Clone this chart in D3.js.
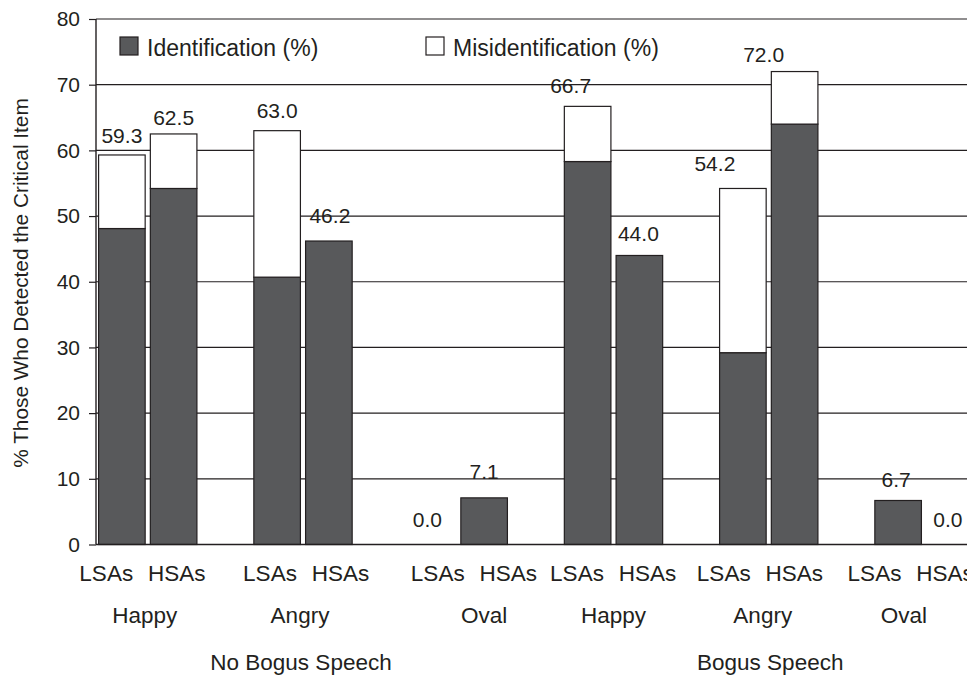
<!DOCTYPE html>
<html><head><meta charset="utf-8">
<script src="https://cdn.jsdelivr.net/npm/d3@7"></script>
<style>html,body{margin:0;padding:0;background:#fff;}svg{display:block;font-family:Arial,"Liberation Sans",sans-serif;}</style>
</head><body>
<svg id="c" width="967" height="677"></svg>
<script>
// ---- data ----
const speechGroups = ["No Bogus Speech", "Bogus Speech"];
const faceTypes = ["Happy", "Angry", "Oval", "Happy", "Angry", "Oval"];
const anxietyGroups = ["LSAs", "HSAs"];
const identification = [48.1, 54.2, 40.7, 46.2, 0.0, 7.1, 58.3, 44.0, 29.2, 64.0, 6.7, 0.0];
const totalDetected = [59.3, 62.5, 63.0, 46.2, 0.0, 7.1, 66.7, 44.0, 54.2, 72.0, 6.7, 0.0];
const yTicks = [0, 10, 20, 30, 40, 50, 60, 70, 80];
const legendLabels = ["Identification (%)", "Misidentification (%)"];

// ---- layout ----
const svg = d3.select("#c");
const W = 967;
const x0 = 96, step = 51.75;
const x = d3.scaleBand().domain(d3.range(18)).range([x0, x0 + 18 * step]).paddingInner(0.1).paddingOuter(0.05);
const y = d3.scaleLinear().domain([0, 80]).range([544.5, 19]);
const ink = "#231f20", dark = "#58595b";

const bars = identification.map((v, i) => ({
  i, ident: v, total: totalDetected[i], slot: Math.floor(i / 2) * 3 + (i % 2)
}));

// grid lines
svg.append("g").selectAll("line").data(yTicks.filter(t => t > 0)).join("line")
  .attr("x1", x0).attr("x2", W).attr("y1", d => y(d)).attr("y2", d => y(d))
  .attr("stroke", ink).attr("stroke-width", 1.2);

// y axis
const yAxis = d3.axisLeft(y).tickValues(yTicks).tickSize(7).tickPadding(9).tickFormat(d3.format("d"));
const ga = svg.append("g").attr("transform", `translate(${x0},0)`).call(yAxis);
ga.select(".domain").remove();
ga.selectAll(".tick line").attr("stroke", ink).attr("stroke-width", 1.2);
ga.selectAll(".tick text").attr("fill", ink).style("font-size", "21px").attr("font-family", "Arial, 'Liberation Sans', sans-serif");
svg.append("line").attr("x1", x0).attr("x2", x0).attr("y1", y(80)).attr("y2", y(0)).attr("stroke", ink).attr("stroke-width", 1.4);

// bars: dark identification part
svg.append("g").selectAll("rect").data(bars.filter(d => d.ident > 0)).join("rect")
  .attr("x", d => x(d.slot)).attr("width", x.bandwidth())
  .attr("y", d => y(d.ident)).attr("height", d => y(0) - y(d.ident))
  .attr("fill", dark).attr("stroke", ink).attr("stroke-width", 1.2);
// white misidentification part
svg.append("g").selectAll("rect").data(bars.filter(d => d.total - d.ident > 0.05)).join("rect")
  .attr("x", d => x(d.slot)).attr("width", x.bandwidth())
  .attr("y", d => y(d.total)).attr("height", d => y(d.ident) - y(d.total))
  .attr("fill", "#fff").attr("stroke", ink).attr("stroke-width", 1.2);

// x axis line
svg.append("line").attr("x1", x0).attr("x2", W).attr("y1", y(0)).attr("y2", y(0)).attr("stroke", ink).attr("stroke-width", 1.4);

// value labels (manual nudges as in the original figure)
const labelDx = [0, 0, 0, 1, -5, 0, -17, -1, -28, -31, -2, -2];
const labelGap = [12, 9, 12.5, 18, 17.5, 19, 13, 14, 17, 9.5, 13, 17.5];
svg.append("g").selectAll("text").data(bars).join("text")
  .attr("x", d => x(d.slot) + x.bandwidth() / 2 + labelDx[d.i])
  .attr("y", d => y(d.total) - labelGap[d.i])
  .attr("text-anchor", "middle").attr("fill", ink).style("font-size", "21px")
  .text(d => d3.format(".1f")(d.total));

// x labels: LSAs / HSAs rows and face types
const rowShift = [-5.5, 3, 15.5, -0.5, -9, -13.5];
const faceShift = [-3, -3, 26, 0, -6, -20];
const pairCenter = g => (x(g * 3) + x(g * 3 + 1) + x.bandwidth()) / 2;
const rows = [];
faceTypes.forEach((f, g) => {
  rows.push({ t: anxietyGroups[0], x: pairCenter(g) + rowShift[g] - 36 });
  rows.push({ t: anxietyGroups[1], x: pairCenter(g) + rowShift[g] + 34.5 });
});
svg.append("g").selectAll("text").data(rows).join("text")
  .attr("x", d => d.x).attr("y", 581).attr("text-anchor", "middle")
  .attr("fill", ink).style("font-size", "22.5px").text(d => d.t);
svg.append("g").selectAll("text").data(faceTypes).join("text")
  .attr("x", (d, g) => pairCenter(g) + faceShift[g]).attr("y", 623).attr("text-anchor", "middle")
  .attr("fill", ink).style("font-size", "22.5px").text(d => d);
const speechShift = [-2, 1.5];
svg.append("g").selectAll("text").data(speechGroups).join("text")
  .attr("x", (d, s) => pairCenter(s * 3 + 1) + speechShift[s]).attr("y", 670).attr("text-anchor", "middle")
  .attr("fill", ink).style("font-size", "22.5px").text(d => d);

// y title
svg.append("text").attr("transform", "translate(28,283) rotate(-90)")
  .attr("text-anchor", "middle").attr("fill", ink).style("font-size", "20.8px")
  .text("% Those Who Detected the Critical Item");

// legend
const legX = [120, 426];
const lg = svg.append("g").selectAll("g").data(legendLabels).join("g")
  .attr("transform", (d, i) => `translate(${legX[i]},37)`);
lg.append("rect").attr("width", 18).attr("height", 18)
  .attr("fill", (d, i) => i === 0 ? dark : "#fff").attr("stroke", ink).attr("stroke-width", 1.2);
lg.append("text").attr("x", 27).attr("y", 18.5).attr("fill", ink).style("font-size", "23px").text(d => d);
</script>
</body></html>
